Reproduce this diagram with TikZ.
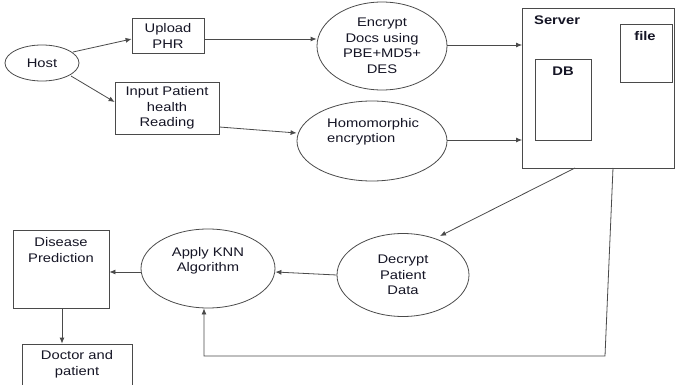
\documentclass[tikz,border=0pt]{standalone}
\usepackage{fontspec}
\setmainfont[FakeStretch=1.18]{Liberation Sans}
\usetikzlibrary{arrows.meta,shapes.geometric}
\definecolor{edge}{HTML}{4A4A4A}
\definecolor{ink}{HTML}{151525}
\begin{document}
\begin{tikzpicture}[x=1pt,y=-1pt,
  every node/.style={font=\fontsize{12.5}{15.5}\selectfont, text=ink},
  oval/.style={draw=edge, line width=0.8pt, ellipse, inner sep=0pt},
  boxnode/.style={draw=edge, line width=0.8pt, rectangle, inner sep=0pt},
  txt/.style={align=center, inner sep=0pt},
  boldtxt/.style={txt, font=\fontsize{12.5}{15.5}\selectfont\bfseries},
  flow/.style={draw=edge, line width=0.8pt, -{Latex[length=6pt,width=5pt]}}]
\useasboundingbox (0,0) rectangle (675,385);
\fill[white] (0,0) rectangle (675,385);

% host and the two input steps
\node[oval, minimum width=74pt, minimum height=36pt] (host) at (42,63) {Host};
\node[boxnode, minimum width=72pt, minimum height=35pt, align=center] (upload) at (168,36) {Upload\\PHR};
\node[boxnode, minimum width=104pt, minimum height=52pt, align=center] (input) at (167,108) {Input Patient\\health\\Reading};

% encryption stages
\node[oval, minimum width=130pt, minimum height=88pt, align=center] (encrypt) at (382,46) {Encrypt\\Docs using\\PBE+MD5+\\DES};
\node[oval, minimum width=150pt, minimum height=80pt] (homo) at (372,141) {};
\node[txt, align=left, anchor=west] (homotext) at (327,132) {Homomorphic\\encryption};

% server with its stores
\node[boxnode, minimum width=152pt, minimum height=160pt] (server) at (598.5,88) {};
\node[boldtxt, anchor=west] (servertext) at (534,20) {Server};
\node[boxnode, minimum width=56pt, minimum height=81pt] (db) at (563,99.5) {};
\node[boldtxt] (dbtext) at (563,71) {DB};
\node[boxnode, minimum width=52pt, minimum height=58pt] (file) at (646,53) {};
\node[boldtxt] (filetext) at (645,36) {file};

% processing chain
\node[oval, minimum width=132pt, minimum height=83pt, align=center] (decrypt) at (403,275) {Decrypt\\Patient\\Data};
\node[oval, minimum width=134pt, minimum height=79pt] (knn) at (208,268.5) {};
\node[txt] (knntext) at (208,261) {Apply KNN\\Algorithm};
\node[boxnode, minimum width=96pt, minimum height=78pt] (disease) at (61,269) {};
\node[txt] (diseasetext) at (61,250) {Disease\\Prediction};
\node[boxnode, minimum width=110pt, minimum height=60pt] (doctor) at (77,374) {};
\node[txt] (doctortext) at (77,364.5) {Doctor and\\patient};

% connectors
\draw[flow] (73,52) -- (upload.west |- 0,39);
\draw[flow] (71,76) -- (input.west |- 0,102);
\draw[flow] (upload.east |- 0,39) -- (encrypt.west |- 0,39);
\draw[flow] (input.east |- 0,127) -- (homo.west |- 0,133);
\draw[flow] (encrypt.east |- 0,45) -- (server.west |- 0,45);
\draw[flow] (homo.east |- 0,140) -- (server.west |- 0,140);
\coordinate (sA) at (575,168);
\draw[flow] (sA) -- (440,236);
\draw[flow] (decrypt.west) -- (knn.east |- 0,272);
\draw[flow] (knn.west |- 0,272) -- (disease.east |- 0,272);
\draw[flow] (disease.south -| 62,0) -- (doctor.north -| 62,0);
\coordinate (sB) at (613,168);
\coordinate (c1) at (605,356);
\coordinate (c2) at (204,356);
\draw[flow] (sB) -- (c1) -- (c2) -- (knn.south -| c2);
\end{tikzpicture}
\end{document}
